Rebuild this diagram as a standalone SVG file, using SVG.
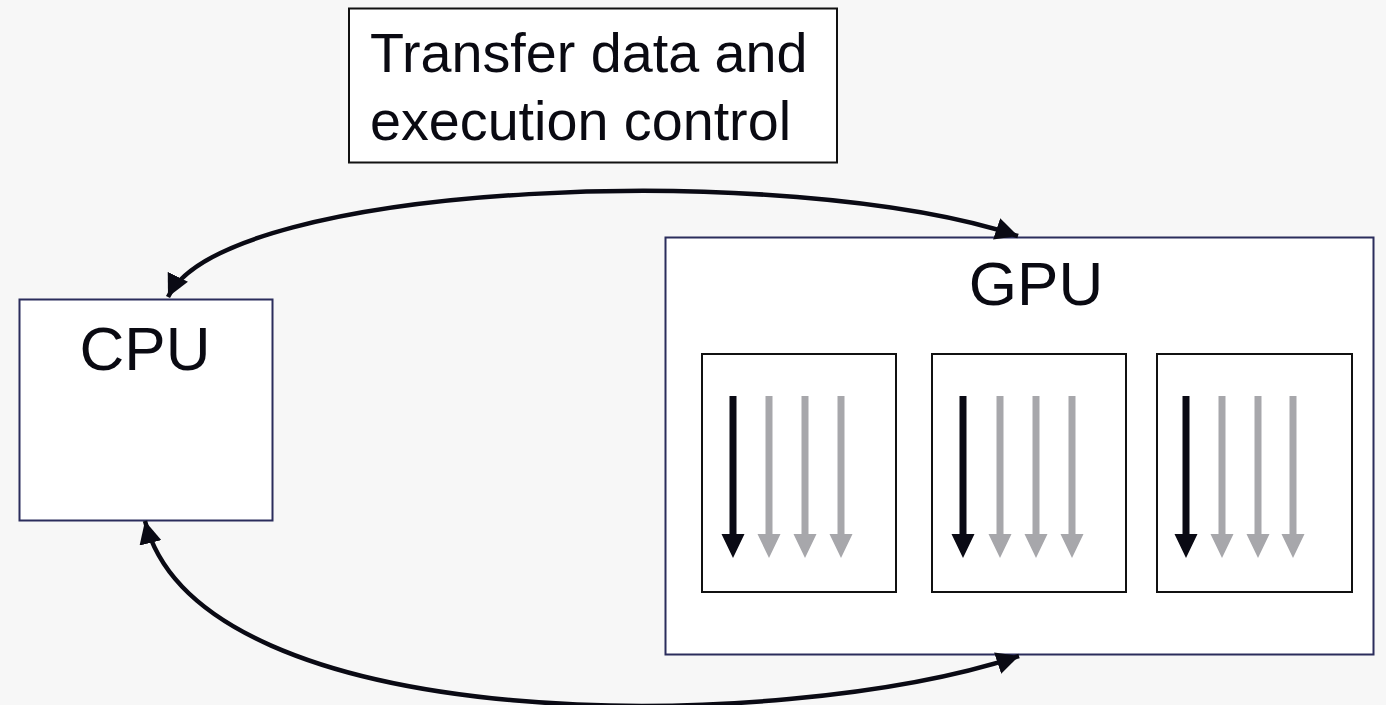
<svg xmlns="http://www.w3.org/2000/svg" width="1386" height="705" viewBox="0 0 1386 705">
<style>
.bg{fill:#f7f7f7}
.outer{fill:#ffffff;stroke:#2b2d5c;stroke-width:2}
.inner{fill:#ffffff;stroke:#111111;stroke-width:2}
.t{font-family:"Liberation Sans",Arial,sans-serif;fill:#0a0a12}
.conn{fill:none;stroke:#0a0a14;stroke-width:4.5}
.blk{fill:#0a0a14}
.gry{fill:#a7a7ab}
</style>
<defs>
<marker id="ah" viewBox="0 0 10 10" refX="10" refY="5" markerWidth="5" markerHeight="5" orient="auto-start-reverse" markerUnits="strokeWidth">
<path d="M0,0 L10,5 L0,10 z" fill="#0a0a14"/>
</marker>
<path id="ta" d="M-3.5,0 H3.5 V138 H11.5 L0,162 L-11.5,138 H-3.5 Z"/>
</defs>
<rect class="bg" x="0" y="0" width="1386" height="705"/>
<g id="label">
<rect x="349" y="8.5" width="488" height="154" fill="#ffffff" stroke="#111111" stroke-width="2"/>
<text class="t" x="370" y="72" font-size="55.7">Transfer data and</text>
<text class="t" x="370" y="140" font-size="55.7">execution control</text>
</g>
<g id="cpu">
<rect class="outer" x="19.5" y="299.5" width="253" height="221"/>
<text class="t" x="145" y="370" font-size="62" text-anchor="middle">CPU</text>
</g>
<g id="gpu">
<rect class="outer" x="665.5" y="237.5" width="708" height="417"/>
<text class="t" x="1036" y="305" font-size="62" text-anchor="middle">GPU</text>
</g>
<g id="sm1">
<rect class="inner" x="702" y="354" width="194" height="238"/>
<use href="#ta" class="blk" x="733" y="396"/>
<use href="#ta" class="gry" x="769" y="396"/>
<use href="#ta" class="gry" x="805" y="396"/>
<use href="#ta" class="gry" x="841" y="396"/>
</g>
<g id="sm2">
<rect class="inner" x="932" y="354" width="194" height="238"/>
<use href="#ta" class="blk" x="963" y="396"/>
<use href="#ta" class="gry" x="1000" y="396"/>
<use href="#ta" class="gry" x="1036" y="396"/>
<use href="#ta" class="gry" x="1072" y="396"/>
</g>
<g id="sm3">
<rect class="inner" x="1157" y="354" width="195" height="238"/>
<use href="#ta" class="blk" x="1186" y="396"/>
<use href="#ta" class="gry" x="1222" y="396"/>
<use href="#ta" class="gry" x="1258" y="396"/>
<use href="#ta" class="gry" x="1293" y="396"/>
</g>
<g id="connectors">
<path class="conn" d="M168,297 C225,180 790,160 1018,236" marker-start="url(#ah)" marker-end="url(#ah)"/>
<path class="conn" d="M145,521 C200,740 780,735 1019,656" marker-start="url(#ah)" marker-end="url(#ah)"/>
</g>
</svg>
